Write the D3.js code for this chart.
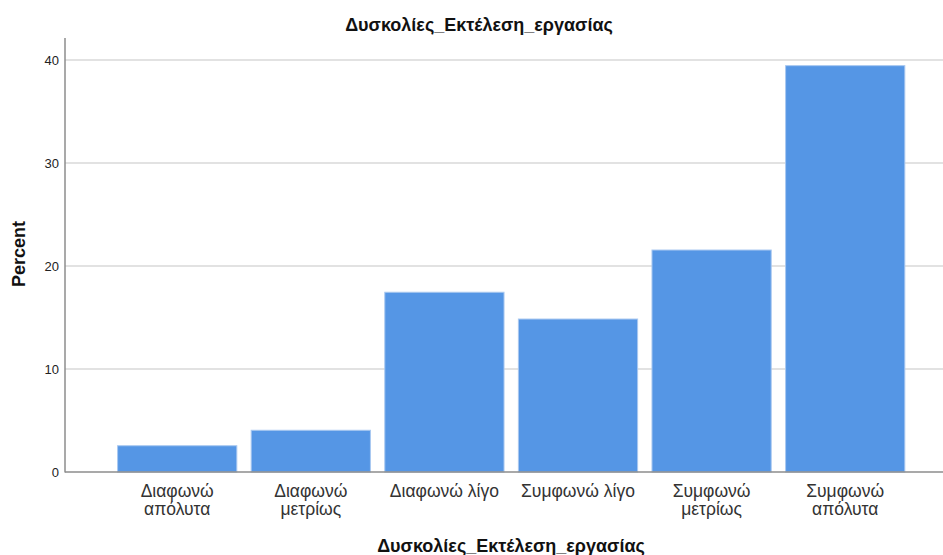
<!DOCTYPE html>
<html><head><meta charset="utf-8">
<script src="https://cdn.jsdelivr.net/npm/d3@7"></script>
<style>body{margin:0;background:#fff}svg{display:block}text{font-family:"Liberation Sans",Arial,sans-serif}</style>
</head><body>
<script>
const categories = [["Διαφωνώ","απόλυτα"],["Διαφωνώ","μετρίως"],["Διαφωνώ λίγο"],["Συμφωνώ λίγο"],["Συμφωνώ","μετρίως"],["Συμφωνώ","απόλυτα"]];
const values = [2.6, 4.1, 17.5, 14.9, 21.6, 39.5];
const yTicks = [0, 10, 20, 30, 40];
const title = "Δυσκολίες_Εκτέλεση_εργασίας";
const xTitle = "Δυσκολίες_Εκτέλεση_εργασίας";
const yTitle = "Percent";

const W = 943, H = 555;
const svg = d3.select("body").append("svg").attr("width", W).attr("height", H);
const keys = categories.map(c => c.join(" "));
const x = d3.scaleBand().domain(keys).range([110.4, 912]).paddingInner(0.1).paddingOuter(0.05);
const y = d3.scaleLinear().domain([0, 40]).range([472, 60]);
const axisX = 65, right = 943;

// gridlines
svg.append("g").selectAll("line").data(yTicks.filter(t => t > 0)).join("line")
  .attr("x1", axisX).attr("x2", right).attr("y1", d => y(d)).attr("y2", d => y(d))
  .attr("stroke", "#d9d9d9").attr("stroke-width", 1.5);

// bars
svg.append("g").selectAll("rect").data(values).join("rect")
  .attr("x", (d, i) => x(keys[i]) + 0.5).attr("width", x.bandwidth() - 1)
  .attr("y", d => y(d) + 0.5).attr("height", d => y(0) - y(d) - 0.5)
  .attr("fill", "#5596e5").attr("stroke", "#a9c8f0").attr("stroke-width", 1);

// y axis
const yAxis = d3.axisLeft(y).tickValues(yTicks).tickSize(0).tickPadding(6);
const gy = svg.append("g").attr("transform", `translate(${axisX},0)`).call(yAxis);
gy.select(".domain").remove();
gy.selectAll("text").attr("font-size", 13).attr("fill", "#222").attr("font-family", "Liberation Sans, Arial, sans-serif");
svg.append("line").attr("x1", axisX).attr("x2", axisX).attr("y1", 38).attr("y2", y(0) + 0.5)
  .attr("stroke", "#8c8c8c").attr("stroke-width", 1.5);
svg.append("line").attr("x1", axisX).attr("x2", right).attr("y1", y(0)).attr("y2", y(0))
  .attr("stroke", "#8c8c8c").attr("stroke-width", 1.5);

// x labels
const xl = svg.append("g");
categories.forEach((c, i) => {
  const t = xl.append("text").attr("x", x(keys[i]) + x.bandwidth() / 2).attr("y", 497)
    .attr("text-anchor", "middle").attr("font-size", 17.5).attr("fill", "#333");
  c.forEach((line, j) => t.append("tspan").attr("x", x(keys[i]) + x.bandwidth() / 2).attr("dy", j ? 17.5 : 0).text(line));
});

// titles
svg.append("text").attr("x", 479).attr("y", 31).attr("text-anchor", "middle")
  .attr("font-size", 18).attr("font-weight", "bold").attr("fill", "#111").text(title);
svg.append("text").attr("x", 511).attr("y", 552).attr("text-anchor", "middle")
  .attr("font-size", 18).attr("font-weight", "bold").attr("fill", "#111").text(xTitle);
svg.append("text").attr("transform", "translate(25,254) rotate(-90)").attr("text-anchor", "middle")
  .attr("font-size", 18).attr("font-weight", "bold").attr("fill", "#111").text(yTitle);
</script>
</body></html>
